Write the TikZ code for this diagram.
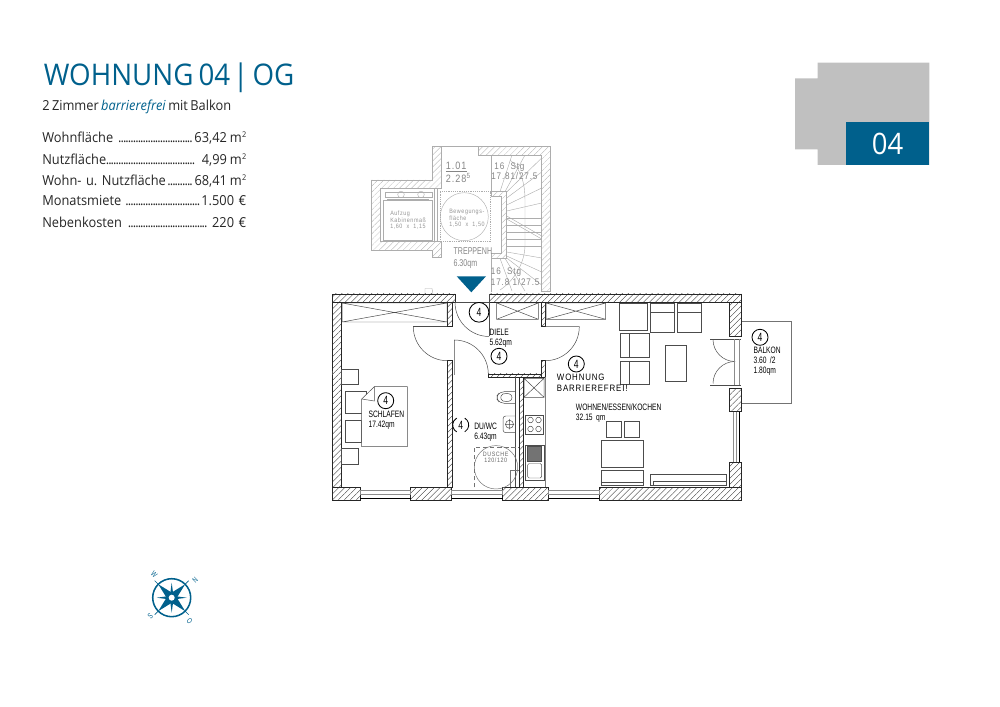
\documentclass[tikz,border=0pt]{standalone}
\usepackage{fontspec}
\setmainfont[FakeStretch=.93,WordSpace=.72]{Open Sans}
\newfontfamily\planfont[FakeStretch=.72]{Liberation Sans}
\newfontfamily\hintfont[FakeStretch=.85,LetterSpace=9]{Liberation Sans}
\usetikzlibrary{patterns.meta}
\frenchspacing
\definecolor{wohnblue}{HTML}{00608C}
\definecolor{boxgray}{HTML}{C0C0C0}
\definecolor{fadegray}{gray}{.68}
\newcommand{\rowdots}{\leaders\hbox to 1.75pt{\hss.\hss}\hfill}
\newcommand{\sqm}{\kern2pt m\kern.3pt\raisebox{.42em}{\fontsize{5.6}{6}\selectfont 2}}

\begin{document}
\begin{tikzpicture}[x=.025cm,y=-.025cm,
  wall/.style={draw=black!85,line width=.45pt,pattern={Lines[angle=45,distance=3pt,line width=.25pt]},pattern color=black!80},
  fadewall/.style={draw=fadegray,line width=.4pt,pattern={Lines[angle=45,distance=3pt,line width=.2pt]},pattern color=fadegray},
  furniture/.style={draw=black!70,line width=.35pt},
  fadeline/.style={draw=fadegray,line width=.3pt},
  title/.style={anchor=base west,inner sep=0,text=wohnblue,font=\fontsize{21.2}{24}\selectfont},
  statrow/.style={anchor=base west,inner sep=0,text width=204*.7113pt,text=black!85,font=\fontsize{9.8}{11}\selectfont},
  roomtext/.style={anchor=west,inner sep=0,align=left,text=black,font=\planfont\fontsize{6.6}{7.3}\selectfont},
  fadetext/.style={anchor=west,inner sep=0,align=left,text=black!48,font=\hintfont\fontsize{6.8}{7.3}\selectfont},
  tinytext/.style={anchor=west,inner sep=0,align=left,text=black!42,font=\hintfont\fontsize{4.5}{4.6}\selectfont},
  roomno/.style={circle,draw=black,line width=.6pt,inner sep=0,minimum size=11.4pt,font=\planfont\fontsize{8.5}{9}\selectfont}]

  \useasboundingbox (0,0) rectangle (1000,707);

  % header
  \node [title] (head) at (43.5,86) {WOHNUNG 04\kern2pt|\kern3pt OG};
  \node [anchor=base west,inner sep=0,text=black!85,font=\fontsize{9.8}{11}\selectfont] (sub) at (42,111)
    {2 Zimmer \textcolor{wohnblue}{\textit{barrierefrei}} mit Balkon};
  \node [statrow] (wf) at (42,143) {Wohnfläche \rowdots 63,42\sqm};
  \node [statrow] (nf) at (42,165) {Nutzfläche\rowdots\ 4,99\sqm};
  \node [statrow] (wn) at (42,186) {Wohn- u. Nutzfläche\rowdots 68,41\sqm};
  \node [statrow] (mm) at (42,206) {Monatsmiete \rowdots 1.500 €};
  \node [statrow] (nk) at (42,227.5) {Nebenkosten \rowdots\ 220 €};

  % number tab
  \fill [boxgray] (817.7,62.7) rectangle (929.3,165) (795,78.3) rectangle (818,149.3);
  \node [fill=wohnblue,minimum width=83.6*.7113pt,minimum height=42.7*.7113pt,inner sep=0,text=white,
    font=\fontsize{21}{24}\selectfont] (tab) at (887.5,143.7) {04};

  % stair well
  \path [fadewall] (371.7,180) -- (432.7,180) -- (432.7,146.7) -- (441.7,146.7) -- (441.7,188.3) -- (380.7,188.3)
    -- (380.7,241) -- (441.7,241) -- (441.7,257) -- (432.7,257) -- (432.7,250) -- (371.7,250) -- cycle;
  \path [fadewall] (478.3,146.7) -- (550,146.7) -- (550,291.7) -- (541.7,291.7) -- (541.7,155) -- (478.3,155) -- cycle;
  \path [fadewall] (491.7,191.7) -- (506.7,191.7) -- (506.7,258.3) -- (491.7,258.3) -- (491.7,253.3) -- (501.7,253.3)
    -- (501.7,196.7) -- (491.7,196.7) -- cycle;
  \draw [fadeline] (441.7,146.7) -- (478.3,146.7);
  \draw [fadeline] (491.7,155) -- (491.7,191.7) (491.7,258.3) -- (491.7,292);
  \foreach \a/\b/\c/\d in {500/191.7/512/155,505/191.7/525/155,506.7/192/541.7/158,506.7/198/541.7/172,
    506.7/205/541.7/188,506.7/211/541.7/203,506.7/218/541.7/218,506.7/225/541.7/225,506.7/232/541.7/232,
    506.7/239/541.7/239,506.7/246/541.7/246,506.7/252/541.7/258,506.7/256/541.7/272,506.7/258/541.7/285,
    505/258.3/525/291,500/258.3/512/291}
    \draw [fadeline] (\a,\b) -- (\c,\d);
  \draw [fadeline] (506.7,216) -- (541.7,236) (506.7,219) -- (541.7,239);
  \draw [fadeline] (510,160) .. controls (522,170) and (525,185) .. (525,200) -- (525,245)
    .. controls (525,262) and (515,280) .. (500,290);
  % lift
  \draw [fadeline] (383.3,200.7) rectangle (432.7,240) (387,199) -- (429,199) (385,192) rectangle (432,197);
  \draw [fadeline] (401,194.5) circle (3.3) (421,194.5) circle (3.3);
  \draw [fadeline] (434,188.3) -- (434,241) (437,188.3) -- (437,241);
  \draw [fadeline,densely dotted] (440,191.7) rectangle (490,241.7);
  \draw [fadeline] (464.3,216.7) circle (24);
  \node [tinytext] (lift) at (390,220.5) {Aufzug\\Kabinenmaß\\1,60\ \ x\ \ 1,15};
  \node [tinytext] (bew) at (449,218.5) {Bewegungs-\\fläche\\1,50\ \ x\ \ 1,50};
  \node [fadetext,font=\hintfont\fontsize{7.6}{8.2}\selectfont] (raum) at (445.7,172.5) {\underline{1.01}\\2.28\textsuperscript{5}};
  \node [fadetext] (stgo) at (491,171) {\ 16 \ Stg\\17.81/27.5};
  \node [fadetext,font=\planfont\fontsize{7}{8.3}\selectfont] (trep) at (453.3,258) {TREPPENH\\6.30qm};
  \node [fadetext] (stgu) at (490.7,276.7) {16 \ Stg\\17.8 1/27.5};
  \fill [wohnblue] (456.7,276.3) -- (486,276.3) -- (471.3,292.3) -- cycle;
  \draw [fadeline] (425,294) -- (425,288.5) -- (432,288.5) -- (433,294);

  % walls
  \foreach \a/\b/\c/\d in {332.7/294/455/302.3,489/294/741/302.3,332.7/302.3/341.7/487.3,729/302.3/741/336.7,
    729/388.3/741/411.7,729/462.3/741/487.3,332.7/487.3/360/500,410.7/487.3/451.7/500,502.7/487.3/548.7/500,
    599.3/487.3/741/500,447.3/302.3/452/326.7,447.3/360.7/452/487.3,541.3/302.3/545.3/326.7,
    541.3/360.7/545.3/377.3,488.3/374/541.3/377.3,519.3/377.3/523.3/487.3}
    \path [wall] (\a,\b) rectangle (\c,\d);
  \draw [furniture] (455,302.3) -- (489,302.3) (489,294) -- (489,336.5);
  \draw [furniture] (332.7,371) -- (332.7,375);

  % windows
  \foreach \a/\b in {360/410.7,451.7/502.7,548.7/599.3}{
    \draw [furniture,draw=black!45] (\a,490.5) rectangle (\b,494.5);
    \draw [black,line width=1pt] (\a,498.5) -- (\b,498.5);
  }
  \draw [furniture,draw=black!45] (733,411.7) -- (733,462.3) (736,411.7) -- (736,462.3);
  \draw [black,line width=1pt] (739.5,411.7) -- (739.5,462.3);

  % doors
  \draw [furniture] (455,302.3) arc[start angle=180,end angle=90,radius=34.2];
  \draw [furniture] (413.3,326.7) -- (447.3,326.7);
  \draw [furniture] (413.3,326.7) arc[start angle=180,end angle=90,radius=34];
  \draw [furniture] (454.3,375) -- (454.3,340) arc[start angle=-90,end angle=0,radius=34];
  \draw [furniture] (545.3,326.7) -- (579.3,326.7) arc[start angle=0,end angle=90,radius=34];
  \draw [furniture] (710,339.5) -- (741,339.5) (710,385) -- (741,385);
  \draw [furniture] (713,339.5) arc[start angle=180,end angle=90,radius=22];
  \draw [furniture] (735,361.5) arc[start angle=-90,end angle=-180,radius=22];
  \draw [furniture,draw=black!45] (734.3,339.5) -- (734.3,385) (739,339.5) -- (739,385);
  \draw [furniture,draw=black!55] (742,321.7) -- (791.7,321.7) -- (791.7,403.3) -- (742,403.3);

  % closets
  \foreach \a/\b/\c/\d in {342/303/447/322,496.7/303/538.3/319.3,546/303/605.7/319.3,524/378.3/544/397.3}
    \draw [furniture] (\a,\b) rectangle (\c,\d) (\a,\b) -- (\c,\d) (\a,\d) -- (\c,\b);

  % furniture
  \foreach \a/\b/\c/\d in {619.3/303.3/647.3/330.7,650.7/303.3/674.3/332.3,677.3/303.3/701.7/332.3,
    620/333.3/649/357.3,620/361/649/384.3,665.7/345.3/686/381.3,606.3/421.7/621.7/437.3,624.3/421.7/639.7/437.3,
    601.3/440.3/643.3/467.3,601.3/470.7/643.3/485.7,650.3/474.3/726.7/485.7,341.7/369.3/358.3/384.3,
    341.7/448.3/358.3/464,345/391.7/366.7/413.3,345/420/361.7/442.3}
    \draw [furniture] (\a,\b) rectangle (\c,\d);
  \draw [furniture] (650.7,312.7) -- (674.3,312.7) (677.3,312.7) -- (701.7,312.7) (629,333.3) -- (629,357.3)
    (629,361) -- (629,384.3) (601.3,482.3) -- (643.3,482.3) (653,481.3) -- (726,481.3) (653,481.3) -- (653,485.7);
  \draw [furniture,fill=white] (361.7,399) -- (374.3,386.7) -- (407.3,386.7) -- (407.3,446.7) -- (361.7,446.7) -- cycle;
  \draw [furniture] (361.7,399) -- (374.3,401) -- (374.3,386.7);

  % bath and kitchen
  \draw [furniture] (515,377.3) -- (515,487.3);
  \draw [furniture,rounded corners=3pt] (515,391.7) -- (500,391.7) -- (495.7,397.5) -- (500,403.3) -- (515,403.3);
  \draw [furniture] (503,394) .. controls (508,392.5) and (512,394) .. (512,397.5) .. controls (512,401) and (508,402.5) .. (503,401)
    .. controls (500,399.5) and (500,395.5) .. (503,394);
  \draw [furniture,rounded corners=2pt] (515,416) -- (503,416) -- (503,432.7) -- (515,432.7);
  \draw [furniture] (509.5,424.3) circle (4) (509.5,419) -- (509.5,429.5) (505,424.3) -- (514,424.3);
  \draw [furniture,densely dashed,draw=black!55] (474,487.3) -- (474,447.3) -- (519.3,447.3);
  \draw [furniture,draw=black!55] (496,467.3) circle (21.7);
  \draw [furniture,draw=black!55] (510.7,487.3) -- (510.7,470.7) -- (519.3,470.7);
  \node [tinytext,text=black!60,align=center,anchor=center] (dusche) at (495.7,457.5) {DUSCHE\\120/120};
  \draw [furniture,draw=black!50] (545.7,377.3) -- (545.7,487.3);
  \draw [furniture] (525.7,415) rectangle (543.3,434);
  \foreach \a/\b in {530.5/420,538.5/420,530.5/429,538.5/429}
    \draw [furniture] (\a,\b) circle (2.8);
  \draw [furniture] (525.7,445) rectangle (544,480);
  \draw [furniture,fill=black!55] (527.7,446.7) rectangle (541.7,461.7);
  \draw [furniture,rounded corners=1pt] (527.7,463.5) rectangle (541.7,478);

  % room labels
  \node [roomtext] (diele) at (489.3,338.5) {DIELE\\5.62qm};
  \node [roomtext] (schl) at (368.3,420) {SCHLAFEN\\17.42qm};
  \node [roomtext] (duwc) at (474,432) {DU/WC\\6.43qm};
  \node [roomtext,font=\hintfont\fontsize{6.6}{7.3}\selectfont] (bfrei) at (556.7,382.7) {WOHNUNG\\BARRIEREFREI!};
  \node [roomtext] (wohn) at (575.7,413) {WOHNEN/ESSEN/KOCHEN\\32.15 \,qm};
  \node [roomtext] (balk) at (753.3,361) {BALKON\\3.60 \,/2\\1.80qm};
  \node [roomno,minimum size=14pt] (n1) at (479,312.3) {4};
  \node [roomno] (n2) at (499,356.3) {4};
  \node [roomno] (n3) at (385.7,400.7) {4};
  \node [roomno,draw=none] (n4) at (460.7,425) {4};
  \draw [black,line width=.6pt] (460.7,425) ++(-60:8) arc[start angle=-60,end angle=60,radius=8];
  \draw [black,line width=.6pt] (460.7,425) ++(120:8) arc[start angle=120,end angle=240,radius=8];
  \node [roomno] (n5) at (576.3,364) {4};
  \node [roomno] (n6) at (760,337.3) {4};

  % compass
  \begin{scope}[shift={(171.7,597.7)}]
    \draw [wohnblue,line width=1.1pt] (0,0) circle (19);
    \foreach \r in {45,135,225,315}{
      \fill [wohnblue,rotate=\r] (19,0) -- (0,4.5) -- (0,-4.5) -- cycle;
      \fill [wohnblue,rotate=\r-45] (15,0) -- (0,2) -- (0,-2) -- cycle;
      \draw [wohnblue,line width=.5pt,rotate=\r] (19,0) -- (24,0);
    }
    \fill [white] (0,0) circle (3);
    \node [inner sep=0,text=wohnblue,rotate=-45,font=\planfont\fontsize{5.6}{6}\selectfont] (west) at (-17.5,-23.5) {W};
    \node [inner sep=0,text=wohnblue,rotate=45,font=\planfont\fontsize{5.6}{6}\selectfont] (nord) at (23.5,-18) {N};
    \node [inner sep=0,text=wohnblue,rotate=45,font=\planfont\fontsize{5.6}{6}\selectfont] (sued) at (-21.5,19) {S};
    \node [inner sep=0,text=wohnblue,rotate=-45,font=\planfont\fontsize{5.6}{6}\selectfont] (ost) at (18,23) {O};
  \end{scope}

\end{tikzpicture}
\end{document}
